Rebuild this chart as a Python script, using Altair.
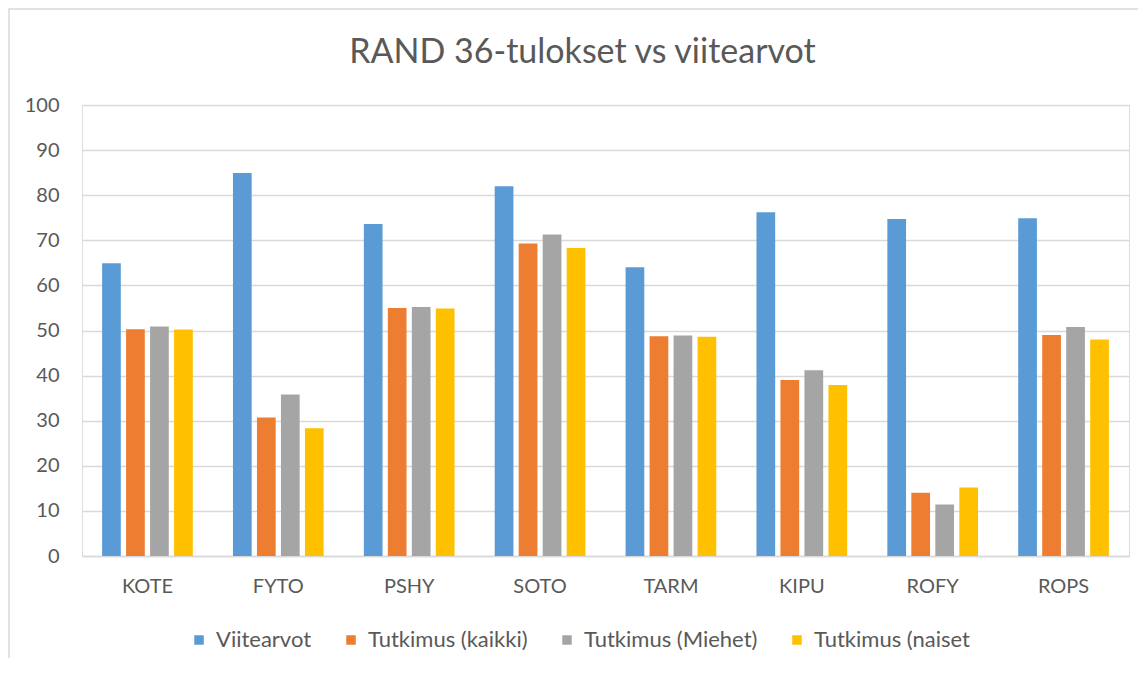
import altair as alt
import pandas as pd

categories = ["KOTE", "FYTO", "PSHY", "SOTO", "TARM", "KIPU", "ROFY", "ROPS"]
series = ["Viitearvot", "Tutkimus (kaikki)", "Tutkimus (Miehet)", "Tutkimus (naiset"]
viitearvot = [64.9, 84.9, 73.6, 82.0, 64.0, 76.2, 74.7, 74.9]
kaikki = [50.3, 30.7, 55.0, 69.3, 48.7, 39.0, 14.0, 49.0]
miehet = [50.9, 35.8, 55.2, 71.3, 48.9, 41.2, 11.4, 50.8]
naiset = [50.2, 28.3, 54.9, 68.3, 48.6, 37.9, 15.2, 48.0]
colors = ["#5B9BD5", "#ED7D31", "#A5A5A5", "#FFC000"]
y_ticks = list(range(0, 101, 10))

rows = []
for s, vals in zip(series, [viitearvot, kaikki, miehet, naiset]):
    for c, v in zip(categories, vals):
        rows.append({"kategoria": c, "sarja": s, "arvo": v})
df = pd.DataFrame(rows)

FONT = "Lato"
TXT = "#595959"
GRID = "#D9D9D9"

bars = alt.Chart(df).mark_bar().encode(
    x=alt.X(
        "kategoria:N",
        sort=categories,
        scale=alt.Scale(paddingInner=0.307, paddingOuter=0.1535),
        axis=alt.Axis(
            title=None, labelAngle=0, ticks=False, tickSize=0,
            domainColor=GRID, domainWidth=1.3, labelPadding=20,
            labelFontSize=20, labelColor=TXT, labelFont=FONT,
        ),
    ),
    xOffset=alt.XOffset("sarja:N", sort=series,
                        scale=alt.Scale(paddingInner=0.22, paddingOuter=0)),
    y=alt.Y(
        "arvo:Q",
        scale=alt.Scale(domain=[0, 100], nice=False),
        axis=alt.Axis(
            values=y_ticks, title=None, domain=False, ticks=False, tickSize=0,
            gridColor=GRID, gridWidth=1.3, labelPadding=23,
            labelFontSize=20, labelColor=TXT, labelFont=FONT,
        ),
    ),
    color=alt.Color(
        "sarja:N",
        sort=series,
        scale=alt.Scale(domain=series, range=colors),
        legend=alt.Legend(
            title=None, orient="none", direction="horizontal", columns=4,
            legendX=106, legendY=524,
            symbolType="square", symbolSize=90, symbolStrokeWidth=0,
            labelFontSize=22, labelColor=TXT, labelFont=FONT,
            labelOffset=6, columnPadding=28, labelLimit=400,
        ),
    ),
)

border = alt.Chart(alt.Data(values=[{}])).mark_rect(
    fill=None, stroke=GRID, strokeWidth=1.5
).encode(
    x=alt.value(-73), x2=alt.value(2000),
    y=alt.value(-96), y2=alt.value(2000),
)

chart = alt.layer(bars, border).properties(
    width=1047,
    height=451,
    autosize=alt.AutoSizeParams(type="none"),
    padding={"left": 74, "top": 97, "right": 9, "bottom": 102},
    title=alt.TitleParams(
        "RAND 36-tulokset vs viitearvot",
        fontSize=34, font=FONT, color=TXT, fontWeight="normal",
        anchor="middle", frame="group", offset=-62, dx=-23,
    ),
).configure_view(stroke=None).configure(background="white")

chart.save("out.html", embed_options={"renderer": "svg", "actions": False})
